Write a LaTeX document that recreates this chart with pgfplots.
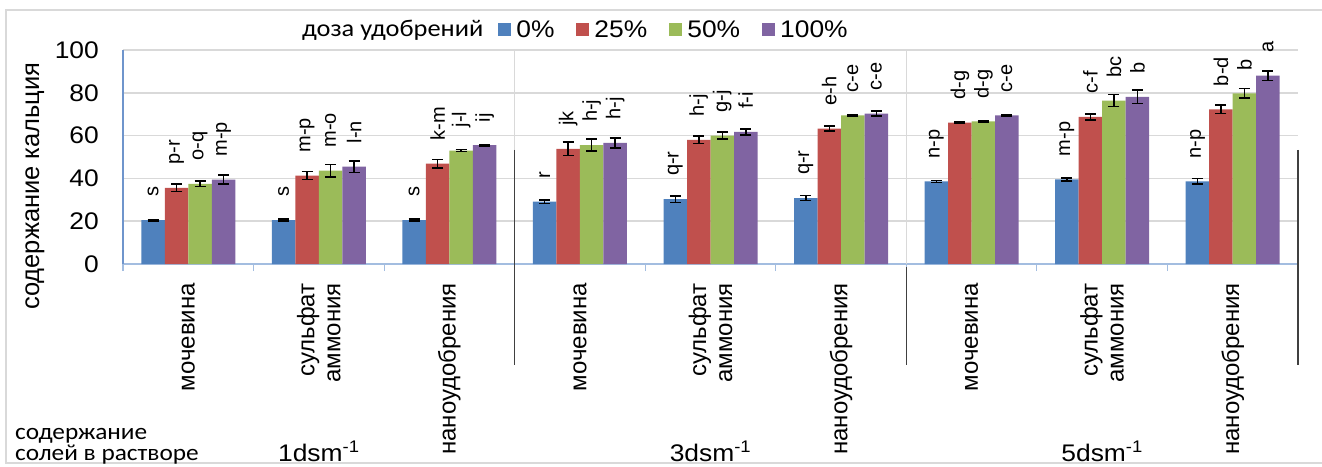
\documentclass[border=0pt]{standalone}
\usepackage{fontspec}
\setmainfont{Liberation Sans}
\newfontfamily\hfont[FakeStretch=1.1]{Liberation Sans}
\newfontfamily\cfont[FakeStretch=1.1]{Carlito}
\usepackage{pgfplots}
\usepackage{pgfplotstable}
\pgfplotsset{compat=1.18}
\definecolor{c1}{HTML}{4F81BD}
\definecolor{c2}{HTML}{C0504D}
\definecolor{c3}{HTML}{9BBB59}
\definecolor{c4}{HTML}{8064A2}
\definecolor{axblue}{HTML}{A3BDE0}
\definecolor{ayblue}{HTML}{6F95CC}
\definecolor{gridgray}{HTML}{D9D9D9}
\definecolor{darkline}{HTML}{404040}
\pgfplotsset{sq legend/.style={legend image code/.code={\fill[##1,draw=none] (0pt,-6.5pt) rectangle (13pt,6.5pt);}}}

\pgfplotstableread{
x y e lab
0 20.5 0.3 s
1 20.5 0.5 s
2 20.5 0.5 s
3 29.1 0.8 r
4 30.3 1.5 q-r
5 30.8 1.2 q-r
6 38.6 0.5 n-p
7 39.5 0.6 m-p
8 38.6 1.3 n-p
}\tA
\pgfplotstableread{
x y e lab
0 35.6 1.7 p-r
1 41.3 1.9 m-p
2 46.9 2.0 k-m
3 53.8 3.1 jk
4 58.0 1.7 h-j
5 63.3 1.2 e-h
6 66.1 0.3 d-g
7 68.8 1.4 c-f
8 72.3 2.0 b-d
}\tB
\pgfplotstableread{
x y e lab
0 37.5 1.4 o-q
1 43.6 3.0 m-o
2 53.0 0.4 j-l
3 55.6 2.7 h-j
4 60.0 1.6 g-j
5 69.4 0.3 c-e
6 66.6 0.3 d-g
7 76.3 2.8 bc
8 79.7 2.2 b
}\tC
\pgfplotstableread{
x y e lab
0 39.4 2.1 m-p
1 45.5 2.7 l-n
2 55.5 0.3 ij
3 56.6 2.3 h-j
4 61.7 1.5 f-i
5 70.3 1.2 c-e
6 69.5 0.3 c-e
7 78.1 3.2 b
8 88.0 2.3 a
}\tD

\begin{document}
\begin{tikzpicture}
\useasboundingbox (-123pt,-202pt) rectangle (1199pt,264pt);
\draw[gridgray, line width=2pt] (-117pt,-199pt) rectangle (1260pt,254pt);
\begin{axis}[
  at={(0,0)}, anchor=south west,
  scale only axis, width=1175pt, height=214pt,
  xmin=-0.5, xmax=8.5, ymin=0, ymax=100,
  ybar, bar width=0.18,
  ytick={0,20,...,100},
  xtick={0,...,8},
  xticklabels={мочевина,{сульфат\\аммония},наноудобрения,мочевина,{сульфат\\аммония},наноудобрения,мочевина,{сульфат\\аммония},наноудобрения},
  minor xtick={-0.5,0.5,...,8.5},
  axis x line*=bottom, axis y line*=left,
  x axis line style={color=axblue, line width=1.5pt, -},
  y axis line style={color=ayblue, line width=1.5pt, -},
  ymajorgrids, grid style={color=gridgray, line width=1.5pt},
  major tick length=0pt, minor tick length=7pt, tick align=outside,
  minor tick style={color=axblue, line width=1.2pt},
  ytick style={draw=none},
  /pgf/number format/assume math mode=true,
  yticklabel style={font=\hfont\fontsize{24}{28}\selectfont, inner sep=0pt, xshift=-24pt},
  xticklabel style={font=\fontsize{24}{26}\selectfont, yshift=-19pt, rotate=90, anchor=east, inner sep=0pt, align=right},
  ylabel={содержание кальция},
  ylabel style={font=\fontsize{25.5}{28}\selectfont, at={(axis description cs:-0.0749,0.364)}, anchor=center},
  clip=false,
  point meta=explicit symbolic,
  nodes near coords,
  nodes near coords align=horizontal,
  every node near coord/.append style={font=\fontsize{20}{22}\selectfont, text=black, rotate=90, anchor=west, inner sep=0pt, xshift=23pt},
  legend columns=5,
  legend style={at={(axis cs:0.832,109.6)}, anchor=west, draw=none, fill=none, inner sep=0pt,
    font=\hfont\fontsize{24}{28}\selectfont, nodes={inner sep=0pt},
    /tikz/every odd column/.append style={column sep=5pt},
    /tikz/every even column/.append style={column sep=22pt}},
  error bars/y dir=both, error bars/y explicit,
  error bars/error bar style={draw=black, line width=1.5pt},
  error bars/error mark options={draw=black, line width=1.5pt, mark size=5.5pt, rotate=90},
]
\addlegendimage{empty legend}
\addlegendentry{\cfont доза удобрений\hspace*{-7pt}}
\addplot[fill=c1, draw=none, bar shift=-0.27, sq legend] table[x=x,y=y,y error=e,meta=lab]{\tA};
\addlegendentry{0\%}
\addplot[fill=c2, draw=none, bar shift=-0.09, sq legend] table[x=x,y=y,y error=e,meta=lab]{\tB};
\addlegendentry{25\%}
\addplot[fill=c3, draw=none, bar shift=0.09, sq legend] table[x=x,y=y,y error=e,meta=lab]{\tC};
\addlegendentry{50\%}
\addplot[fill=c4, draw=none, bar shift=0.27, sq legend] table[x=x,y=y,y error=e,meta=lab]{\tD};
\addlegendentry{100\%}
\draw[gridgray, line width=1.5pt] (axis cs:2.5,53.3) -- (axis cs:2.5,100);
\draw[gridgray, line width=1.5pt] (axis cs:5.5,0) -- (axis cs:5.5,100);
\draw[darkline, line width=1.5pt] (axis cs:2.5,53.3) -- (axis cs:2.5,-47.2);
\draw[darkline, line width=1.5pt] (axis cs:5.5,-1.5) -- (axis cs:5.5,-47.2);
\draw[darkline, line width=1.5pt] (axis cs:8.5,53.3) -- (axis cs:8.5,-47.2);
\node[anchor=base, font=\hfont\fontsize{24}{28}\selectfont] at (axis cs:1,-92.5) {1dsm\textsuperscript{-1}};
\node[anchor=base, font=\hfont\fontsize{24}{28}\selectfont] at (axis cs:4,-92.5) {3dsm\textsuperscript{-1}};
\node[anchor=base, font=\hfont\fontsize{24}{28}\selectfont] at (axis cs:7,-92.5) {5dsm\textsuperscript{-1}};
\node[anchor=base west, align=left, inner sep=0pt, font=\cfont\fontsize{23}{21}\selectfont] at (axis cs:-1.327,-91.8) {содержание\\солей в растворе};
\end{axis}
\end{tikzpicture}
\end{document}
